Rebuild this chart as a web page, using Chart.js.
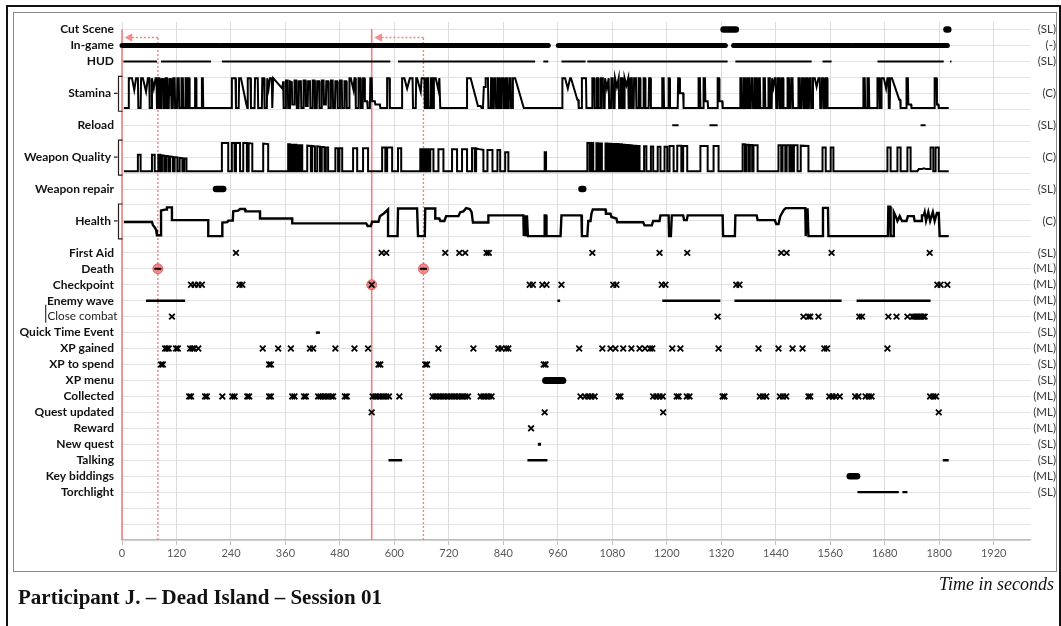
<!DOCTYPE html>
<html>
<head>
<meta charset="utf-8">
<script src="https://cdn.jsdelivr.net/npm/chart.js@4.4.1/dist/chart.umd.min.js"></script>
<style>
  html, body { margin: 0; padding: 0; background: #fff; }
  body { width: 1061px; height: 626px; position: relative; overflow: hidden; }
  #timeline { position: absolute; left: 0; top: 0; }
  .outer { position: absolute; left: 6px; top: 5px; width: 1051px; height: 660px; border: 2px solid #111; }
  .inner { position: absolute; left: 13px; top: 12px; width: 1042px; height: 558px; border: 1px solid #8a8a8a; }
  .title { position: absolute; left: 18px; top: 587px; font: bold 21px "Liberation Serif", serif; line-height: 1; color: #111; white-space: nowrap; }
  .unit { position: absolute; right: 7px; top: 575px; font: italic 18px "Liberation Serif", serif; line-height: 1; color: #111; white-space: nowrap; }
</style>
</head>
<body>
<div class="outer"></div>
<div class="inner"></div>
<canvas id="timeline" width="1061" height="626"></canvas>
<div class="title">Participant J. – Dead Island – Session 01</div>
<div class="unit">Time in seconds</div>
<script>
// ---- axis setup -------------------------------------------------------
const xTickValues = [0, 120, 240, 360, 480, 600, 720, 840, 960, 1080, 1200, 1320, 1440, 1560, 1680, 1800, 1920];
const xMaxSeconds = 2000;

// ---- rows (label, level on the vertical axis, coding) -----------------
const rowLabels = ['Cut Scene', 'In-game', 'HUD', 'Stamina', 'Reload', 'Weapon Quality', 'Weapon repair', 'Health',
  'First Aid', 'Death', 'Checkpoint', 'Enemy wave', 'Close combat', 'Quick Time Event', 'XP gained', 'XP to spend',
  'XP menu', 'Collected', 'Quest updated', 'Reward', 'New quest', 'Talking', 'Key biddings', 'Torchlight'];
const rowLevels = [32, 31, 30, 28, 26, 24, 22, 20, 18, 17, 16, 15, 14, 13, 12, 11, 10, 9, 8, 7, 6, 5, 4, 3];
const rowCodes = ['(SL)', '(-)', '(SL)', '(C)', '(SL)', '(C)', '(SL)', '(C)', '(SL)', '(ML)', '(ML)', '(ML)', '(ML)', '(SL)',
  '(ML)', '(SL)', '(SL)', '(ML)', '(ML)', '(ML)', '(SL)', '(SL)', '(ML)', '(SL)'];

// ---- interval events [start, end] in seconds --------------------------
const cutScene = [[1325, 1352], [1816, 1820]];
const inGame = [[0, 212], [216, 939], [961, 1329], [1347, 1607], [1611, 1818]];
const hud = [[3, 77], [86, 196], [220, 591], [608, 910], [928, 939], [968, 1021], [1025, 1334], [1351, 1519], [1543, 1563], [1664, 1810], [1824, 1827]];
const reload = [[1212, 1226], [1294, 1312], [1759, 1770]];
const weaponRepair = [[207, 223], [1012, 1016]];
const enemyWave = [[53, 139], [959, 965], [1190, 1318], [1349, 1585], [1618, 1781]];
const quickTimeEvent = [[427, 436]];
const xpMenu = [[933, 971]];
const newQuest = [[916, 923]];
const talking = [[587, 617], [893, 937], [1808, 1821]];
const keyBiddings = [[1603, 1619]];
const torchlight = [[1620, 1711], [1719, 1730]];

// ---- point events (seconds) -------------------------------------------
const firstAid = [251, 572, 582, 712, 743, 756, 803, 808, 1036, 1184, 1245, 1452, 1464, 1563, 1779];
const deaths = [79, 664];
const respawnCheckpoints = [0, 550];
const checkpointAtDeath = [550];
const checkpoint = [152, 160, 168, 176, 259, 265, 550, 898, 905, 926, 935, 968, 1082, 1089, 1189, 1197, 1353, 1360, 1796, 1803, 1818];
const closeCombat = [110, 1312, 1501, 1512, 1516, 1534, 1624, 1630, 1688, 1706, 1730, 1741, 1745, 1749, 1753, 1757, 1761, 1765, 1768];
const xpGained = [95, 99, 103, 119, 123, 150, 155, 159, 168, 310, 344, 372, 414, 421, 470, 512, 542, 697, 774, 829, 836, 846, 851,
  1007, 1058, 1076, 1087, 1104, 1122, 1140, 1152, 1163, 1168, 1212, 1230, 1314, 1402, 1446, 1477, 1499, 1547, 1553, 1686];
const xpToSpend = [86, 90, 324, 328, 565, 569, 668, 672, 929, 933];
const collected = [148, 152, 183, 187, 221, 243, 248, 276, 280, 324, 328, 375, 380, 401, 405, 432, 437, 443, 449, 455, 461, 465, 491, 495,
  552, 558, 564, 570, 576, 582, 588, 611, 684, 690, 696, 702, 708, 714, 720, 726, 732, 738, 744, 750, 756, 762, 790, 796, 802, 808, 814,
  1010, 1020, 1027, 1034, 1041, 1094, 1098, 1170, 1177, 1184, 1191, 1222, 1226, 1244, 1250, 1323, 1327, 1405, 1412, 1419, 1449, 1456, 1463,
  1512, 1516, 1558, 1565, 1572, 1581, 1615, 1622, 1638, 1645, 1651, 1780, 1787, 1793];
const questUpdated = [550, 931, 1192, 1799];
const reward = [901];

// ---- continuous measures [seconds, level] -----------------------------
const stamina = [
  [4,27.08],[15,27.08],[15,28.95],[22,28.95],[27,28.2],[31,28.95],[35,28.95],[36,27.08],[41,27.08],[42,28.95],[46,28.95],[53,28.1],[57,28.95],[60,28.95],[61,27.08],[65,27.08],[66,28.95],[70,28.3],[74,28.95],[76,28.95],[77,27.08],
  [79,27.08],[79,28.95],[82,28.95],[83,27.08],[86,27.08],[87,28.95],[89,28.5],[91,28.95],[92,27.08],[95,27.08],[96,28.95],[99,28.95],[100,27.08],[103,27.08],[104,28.95],[106,28.4],[108,28.95],[109,27.08],[112,27.08],[113,28.95],[116,28.95],[117,27.08],[121,27.08],[122,28.95],[125,28.95],[126,27.08],[130,27.08],[131,28.95],[134,28.95],[135,27.08],[139,27.08],[140,28.95],[142,28.95],[143,27.08],
  [146,27.08],[146,28.95],[148,28.95],[149,27.08],[161,27.08],[161,28.95],[163,28.95],[164,27.08],[176,27.08],[176,28.95],[178,28.95],[179,27.08],
  [242,27.08],[242,28.95],[250,28.95],[251,27.08],[257,27.08],[258,28.95],[262,28.95],[274,27.3],[276,27.08],[277,28.95],[283,28.95],[284,27.08],[292,27.08],[293,28.95],[299,28.95],[300,27.08],[308,27.08],[309,28.95],[313,28.95],[314,27.08],[319,27.08],[320,28.95],[323,28.3],[326,28.95],[330,28.95],[331,27.08],[332,27.08],[333,28.95],[353,28.3],
  [355,28.75],[356,27.08],[360,27.08],[361,28.8],[365,28.8],[366,27.08],[369,27.08],[370,28.75],[374,28.7],[375,27.3],[379,27.3],[380,28.8],[384,28.8],[385,27.08],[389,27.08],[390,28.75],[394,28.75],[395,27.08],[399,27.08],[400,28.8],[404,28.8],[405,27.2],[409,27.2],[410,28.75],[414,28.75],[415,27.08],[419,27.08],[420,28.8],[424,28.8],[425,27.08],[429,27.08],[430,28.75],[434,28.75],[435,27.08],[439,27.08],[440,28.8],[444,28.8],[445,27.3],[449,27.3],[450,28.75],[454,28.75],[455,27.08],[459,27.08],[460,28.8],[464,28.8],[465,27.08],[469,27.08],[470,28.75],[474,28.75],[475,27.08],[479,27.08],[480,28.8],[484,28.8],[485,27.08],[489,27.08],[490,28.75],[494,28.75],[495,27.08],
  [500,27.08],[501,28.95],[504,28.95],[510,28.2],[512,28.95],[514,28.95],[515,27.08],[520,27.08],[521,28.95],[525,28.95],[526,27.08],[530,27.08],[531,28.95],[534,28.95],[535,27.5],[540,27.5],[541,27.08],[546,27.08],[547,28.95],[550,28.95],[551,27.5],[557,27.5],[558,27.3],[568,27.3],[569,27.08],[584,27.08],[584,28.95],[589,28.95],[590,27.08],[617,27.08],
  [617,28.95],[622,28.95],[628,28.3],[634,28.95],[640,28.95],[641,27.08],[647,27.08],[648,28.95],[650,28.95],[658,28.1],[660,28.95],[666,28.95],[667,27.08],[670,27.08],[671,28.95],[674,28.95],[675,27.08],[679,27.08],[680,28.95],[683,28.95],[684,27.08],[686,27.08],[687,28.95],[691,28.95],[697,28.2],[699,28.95],[700,28.95],[701,27.08],[760,27.08],
  [760,28.95],[768,28.95],[784,27.2],[790,27.2],[792,27.08],[795,27.08],[797,28.4],[800,28.4],[801,28.95],[806,28.95],[807,27.08],[812,27.08],[813,28.95],[815,28.95],[816,27.08],[819,27.08],[820,28.95],[823,28.95],[824,27.08],[827,27.08],[828,28.95],[831,28.95],[832,27.08],[835,27.08],[836,28.95],[840,28.95],[841,27.08],[844,27.08],[845,28.95],[848,28.95],[849,27.08],[852,27.08],[853,28.95],[856,28.95],[857,27.08],[860,27.08],[861,28.95],[866,28.95],[885,27.08],[970,27.08],
  [970,28.95],[976,28.95],[982,28.3],[987,28.95],[989,28.95],[1003,27.6],[1005,27.6],[1006,27.08],[1012,27.08],[1013,28.95],[1022,28.95],[1023,27.08],[1036,27.08],
  [1036,28.95],[1040,28.95],[1041,27.08],[1045,27.08],[1046,28.95],[1049,28.95],[1050,27.08],[1054,27.08],[1055,28.95],[1059,28.95],[1060,27.08],[1063,27.08],[1064,28.95],[1068,28.3],[1072,28.95],[1073,27.08],[1077,27.08],[1078,28.95],[1081,28.95],[1082,27.08],[1085,27.08],[1086,28.95],[1090,28.4],[1094,28.95],[1095,27.08],[1098,27.08],[1099,28.95],[1102,28.95],[1103,27.08],[1106,27.08],[1107,28.95],[1111,28.5],[1115,28.95],[1116,27.08],[1119,27.08],[1120,28.95],[1123,28.95],[1124,27.08],[1127,27.08],[1128,28.95],[1132,28.95],[1133,27.08],[1137,27.08],[1138,28.95],[1141,28.95],[1142,27.08],[1148,27.08],[1149,28.95],[1152,28.95],[1153,27.08],[1160,27.08],[1161,28.95],[1164,28.95],[1165,27.08],[1190,27.08],
  [1190,28.95],[1193,28.95],[1194,27.08],[1203,27.08],[1204,28.95],[1206,28.95],[1207,27.08],[1224,27.08],[1225,28.95],[1228,28.95],[1229,28.0],[1236,28.0],[1237,27.08],[1269,27.08],[1270,28.95],[1273,28.95],[1274,27.08],[1280,27.08],[1281,28.95],[1284,28.95],[1285,27.5],[1290,27.5],[1291,27.08],[1311,27.08],[1312,28.95],[1315,28.95],[1316,27.5],[1322,27.5],[1323,27.08],[1362,27.08],
  [1362,28.95],[1365,28.95],[1366,27.08],[1369,27.08],[1370,28.95],[1373,28.95],[1374,27.08],[1377,27.08],[1378,28.95],[1381,28.95],[1382,27.08],[1385,27.08],[1386,28.95],[1389,28.95],[1390,27.08],[1393,27.08],[1394,28.95],[1397,28.95],[1398,27.08],[1401,27.08],[1402,28.95],[1405,28.95],[1406,27.08],[1412,27.08],[1413,28.95],[1416,28.95],[1417,27.08],[1423,27.08],[1424,28.95],[1427,28.95],[1428,27.08],[1431,27.08],[1432,28.95],[1435,28.4],[1438,28.95],[1440,28.95],[1441,27.08],[1444,27.08],[1445,28.95],[1448,28.95],[1449,27.08],[1452,27.08],[1453,28.95],[1456,28.95],[1457,27.08],[1465,27.08],[1466,28.95],[1469,28.95],[1470,27.08],[1473,27.08],[1474,28.95],[1477,28.95],[1478,27.08],[1489,27.08],[1490,28.95],[1493,28.95],[1494,27.08],[1497,27.08],[1498,28.95],[1501,28.95],[1502,27.08],[1505,27.08],[1506,28.95],[1509,28.95],[1510,27.08],[1513,27.08],[1514,28.95],[1517,28.95],[1518,27.08],[1521,27.08],[1522,28.95],[1526,28.95],[1530,28.4],[1534,28.95],[1537,28.95],[1538,27.08],[1541,27.08],[1542,28.95],[1545,28.95],[1546,27.08],[1549,27.08],[1550,28.95],[1553,28.95],[1554,27.08],[1633,27.08],
  [1633,28.95],[1636,28.95],[1637,27.08],[1641,27.08],[1642,28.95],[1645,28.95],[1646,27.08],[1664,27.08],
  [1664,28.95],[1668,28.95],[1669,27.08],[1672,27.08],[1673,28.95],[1678,28.95],[1683,28.3],[1686,28.95],[1688,28.95],[1689,27.08],[1691,27.08],[1692,28.95],[1696,28.95],[1712,27.6],[1714,27.6],[1715,27.08],[1727,27.08],[1728,28.95],[1731,28.95],[1732,27.3],[1738,27.3],[1739,27.08],[1789,27.08],[1790,28.95],[1794,28.95],[1795,27.3],[1798,27.3],[1799,27.08],[1821,27.08]
];

const weaponQuality = [
  [4,23.12],[35,23.12],[35,24.15],[41,24.15],[41,23.12],[66,23.12],[66,24.15],[72,24.15],[72,23.12],[80,23.12],[80,24.15],[84,24.15],[84,23.12],[88,23.12],[88,24.12],[93,24.1],[93,23.12],[97,23.12],[97,24.08],[102,24.06],[102,23.12],[106,23.12],[106,24.04],[112,24.02],[112,23.12],[116,23.12],[116,24.0],[122,23.98],[122,23.12],[127,23.12],[127,23.96],[133,23.94],[133,23.12],[137,23.12],[137,23.93],[142,23.92],[142,23.12],
  [220,23.12],[220,24.88],[234,24.88],[234,23.12],[242,23.12],[242,24.88],[248,24.88],[248,23.12],[251,23.12],[251,24.88],[260,24.88],[260,23.12],[267,23.12],[267,24.88],[275,24.88],[275,23.12],[279,23.12],[279,24.88],[287,24.85],[287,23.12],[311,23.12],[311,24.85],[322,24.82],[322,23.12],
  [366,23.12],[366,24.8],[370,24.8],[370,23.12],[373,23.12],[373,24.78],[377,24.78],[377,23.12],[380,23.12],[380,24.77],[384,24.77],[384,23.12],[387,23.12],[387,24.76],[391,24.75],[391,23.12],[393,23.12],[393,24.74],[397,24.74],[397,23.12],[408,23.12],[408,24.72],[416,24.7],[416,23.12],[419,23.12],[419,24.7],[425,24.68],[425,23.12],[430,23.12],[430,24.68],[436,24.66],[436,23.12],[440,23.12],[440,24.65],[446,24.63],[446,23.12],[449,23.12],[449,24.6],[454,24.6],[454,23.12],
  [470,23.12],[470,24.55],[476,24.55],[476,23.12],[479,23.12],[479,24.55],[485,24.55],[485,23.12],[509,23.12],[509,24.55],[518,24.55],[518,23.12],[531,23.12],[531,24.55],[542,24.55],[542,23.12],[573,23.12],[573,24.6],[580,24.6],[580,23.12],[584,23.12],[584,24.6],[595,24.6],[595,23.12],[608,23.12],[608,24.55],[615,24.55],[615,23.12],
  [657,23.12],[657,24.5],[661,24.5],[661,23.12],[664,23.12],[664,24.5],[668,24.5],[668,23.12],[671,23.12],[671,24.5],[675,24.5],[675,23.12],[679,23.12],[679,24.5],[686,24.5],[686,23.12],[697,23.12],[697,24.5],[708,24.5],[708,23.12],[727,23.12],[727,24.5],[738,24.5],[738,23.12],[749,23.12],[749,24.5],[760,24.5],[760,23.12],[771,23.12],[771,24.55],[777,24.55],[777,23.12],[780,23.12],[780,24.55],[787,24.5],[796,24.45],[796,23.12],[805,23.12],[805,24.45],[816,24.45],[816,23.12],[827,23.12],[827,24.45],[833,24.45],[833,23.12],[844,23.12],[844,24.3],[851,24.3],[851,23.12],
  [931,23.12],[931,24.3],[934,24.3],[934,23.12],
  [1025,23.12],[1025,24.88],[1030,24.88],[1030,23.12],[1034,23.12],[1034,24.88],[1038,24.88],[1038,23.12],[1045,23.12],[1045,24.87],[1049,24.87],[1049,23.12],[1053,23.12],[1053,24.86],[1057,24.86],[1057,23.12],[1065,23.12],[1065,24.85],[1069,24.85],[1069,23.12],[1073,23.12],[1073,24.84],[1077,24.84],[1077,23.12],[1081,23.12],[1081,24.83],[1085,24.83],[1085,23.12],[1089,23.12],[1089,24.82],[1093,24.82],[1093,23.12],[1097,23.12],[1097,24.8],[1101,24.8],[1101,23.12],[1104,23.12],[1104,24.79],[1108,24.78],[1108,23.12],[1112,23.12],[1112,24.77],[1116,24.76],[1116,23.12],[1120,23.12],[1120,24.75],[1124,24.74],[1124,23.12],[1128,23.12],[1128,24.73],[1132,24.72],[1132,23.12],[1136,23.12],[1136,24.71],[1140,24.7],[1140,23.12],[1150,23.12],[1150,24.68],[1155,24.68],[1155,23.12],[1165,23.12],[1165,24.66],[1170,24.66],[1170,23.12],[1180,23.12],[1180,24.65],[1186,24.65],[1186,23.12],[1195,23.12],[1195,24.65],[1201,24.65],[1201,23.12],
  [1206,23.12],[1206,24.7],[1215,24.7],[1215,23.12],[1223,23.12],[1223,24.72],[1232,24.72],[1232,23.12],[1236,23.12],[1236,24.7],[1245,24.7],[1245,23.12],[1274,23.12],[1274,24.7],[1290,24.7],[1290,23.12],[1303,23.12],[1303,24.7],[1314,24.7],[1314,23.12],
  [1367,23.12],[1367,24.8],[1372,24.8],[1372,23.12],[1375,23.12],[1375,24.78],[1380,24.78],[1380,23.12],[1383,23.12],[1383,24.77],[1388,24.76],[1388,23.12],[1391,23.12],[1391,24.75],[1400,24.74],[1400,23.12],[1446,23.12],[1446,24.75],[1452,24.75],[1452,23.12],[1455,23.12],[1455,24.75],[1461,24.75],[1461,23.12],[1464,23.12],[1464,24.74],[1470,24.74],[1470,23.12],[1473,23.12],[1473,24.74],[1477,24.74],[1477,23.12],[1480,23.12],[1480,24.74],[1488,24.74],[1488,23.12],[1495,23.12],[1495,24.72],[1512,24.7],[1512,23.12],[1543,23.12],[1543,24.6],[1550,24.6],[1550,23.12],[1561,23.12],[1561,24.6],[1567,24.6],[1567,23.12],
  [1686,23.12],[1686,24.6],[1693,24.6],[1693,23.12],[1708,23.12],[1708,24.6],[1715,24.6],[1715,23.12],[1730,23.12],[1730,24.6],[1737,24.6],[1737,23.12],[1752,23.12],[1755,23.25],[1762,23.25],[1766,23.3],[1772,23.25],[1780,23.25],[1781,24.6],[1787,24.6],[1787,23.12],[1792,23.12],[1792,24.6],[1799,24.6],[1799,23.12],[1821,23.12]
];

const health = [
  [4,19.93],[66,19.93],[68,19.75],[72,19.6],[75,19.45],[77,19.1],[86,19.1],[86,20.65],[97,20.72],[99,20.85],[110,20.85],[110,20.05],[190,20.05],[190,19.05],[221,19.05],[221,19.9],[232,19.92],[234,20.02],[244,20.02],[245,20.6],[256,20.65],[260,20.75],[271,20.75],[272,20.6],[304,20.6],[304,20.15],[375,20.15],[375,19.85],[538,19.85],[541,19.68],[548,19.68],[551,19.95],[565,19.95],[568,20.3],[578,20.5],[586,20.72],[586,19.05],[607,19.05],[608,20.78],[650,20.78],[652,19.05],[667,19.05],[668,20.78],[690,20.78],[690,20.15],[699,20.15],[701,20.0],[710,20.0],[714,20.3],[741,20.3],[745,20.55],[752,20.6],[758,20.8],[766,20.75],[770,20.55],[773,19.9],[807,19.9],[807,20.35],[884,20.35],[885,19.05],[888,20.35],[889,19.05],[892,20.35],[894,19.05],[930,19.05],[931,20.35],[934,20.35],[935,19.05],[966,19.05],[968,20.35],[1012,20.35],[1013,19.05],[1025,19.05],[1027,20.0],[1032,20.0],[1034,20.45],[1037,20.72],[1065,20.72],[1066,20.45],[1076,20.45],[1078,20.25],[1089,20.15],[1091,19.92],[1148,19.92],[1151,19.72],[1167,19.72],[1170,20.0],[1184,20.0],[1186,20.35],[1204,20.35],[1205,19.05],[1209,19.05],[1211,20.35],[1236,20.35],[1238,20.05],[1244,20.05],[1246,20.35],[1323,20.35],[1324,19.05],[1350,19.05],[1351,20.35],[1398,20.35],[1400,20.05],[1438,20.05],[1441,19.8],[1446,19.8],[1450,20.3],[1458,20.7],[1462,20.8],[1505,20.8],[1506,19.05],[1510,20.8],[1512,19.05],[1543,19.05],[1544,20.82],[1555,20.82],[1556,19.05],[1687,19.05],[1688,20.9],[1692,20.9],[1693,19.05],[1699,19.05],[1700,20.55],[1704,20.3],[1708,20.0],[1713,20.3],[1718,20.0],[1728,20.0],[1731,20.3],[1744,20.3],[1746,20.0],[1760,20.0],[1762,20.35],[1766,20.35],[1768,20.55],[1771,20.0],[1776,20.55],[1780,20.0],[1786,20.55],[1790,20.0],[1795,20.5],[1799,20.5],[1801,19.05],[1821,19.05]
];

// ---- helpers turning the arrays into chart points ---------------------
const levelOf = name => rowLevels[rowLabels.indexOf(name)];
function spans(intervals, level) {
  const pts = [];
  intervals.forEach(([a, b], i) => {
    if (i) pts.push({ x: (intervals[i - 1][1] + a) / 2, y: null });
    pts.push({ x: a, y: level }, { x: b, y: level });
  });
  return pts;
}
const marks = (times, level) => times.map(t => ({ x: t, y: level }));
const curve = pairs => pairs.map(([x, y]) => ({ x, y }));
function verticals(times, top) {
  const pts = [];
  times.forEach((t, i) => {
    if (i) pts.push({ x: t, y: null });
    pts.push({ x: t, y: 0 }, { x: t, y: top });
  });
  return pts;
}

const respawnLevel = 31.5;
const arrowPaths = [];
deaths.forEach((t, i) => {
  if (i) arrowPaths.push({ x: t, y: null });
  arrowPaths.push({ x: t, y: respawnLevel }, { x: respawnCheckpoints[i] + 10, y: respawnLevel });
});

const RED = 'rgb(241,128,128)';
const lineSet = (data, width, cap, extra) => Object.assign({
  data, borderColor: '#000', backgroundColor: '#000', borderWidth: width, borderCapStyle: cap || 'butt',
  pointRadius: 0, showLine: true, spanGaps: false, order: 3, clip: false
}, extra || {});
const markSet = (data, extra) => Object.assign({
  data, showLine: false, pointStyle: 'crossRot', pointRadius: 4, pointBorderWidth: 1.8,
  pointBorderColor: '#000', pointBackgroundColor: '#000', order: 1, clip: false
}, extra || {});

const datasets = [
  // respawn guides
  lineSet(verticals(respawnCheckpoints, 32.02), 1.6, 'butt', { borderColor: RED, order: 20 }),
  lineSet(verticals(deaths, respawnLevel), 1.4, 'butt', { borderColor: RED, borderDash: [2, 2], order: 20 }),
  lineSet(arrowPaths, 1.4, 'butt', { borderColor: RED, borderDash: [2, 2], order: 20 }),
  markSet(respawnCheckpoints.map(t => ({ x: t + 17, y: respawnLevel })), {
    pointStyle: 'triangle', rotation: -90, pointRadius: 5, pointBorderWidth: 0,
    pointBackgroundColor: 'rgb(245,140,140)', pointBorderColor: 'rgb(245,140,140)', order: 19 }),

  // continuous measures
  lineSet(curve(stamina), 2, 'butt', { borderJoinStyle: 'miter' }),
  lineSet(curve(weaponQuality), 2, 'butt', { borderJoinStyle: 'miter' }),
  lineSet(curve(health), 2.4, 'butt', { borderJoinStyle: 'miter' }),

  // interval events
  lineSet(spans(cutScene, levelOf('Cut Scene')), 6.5, 'round'),
  lineSet(spans(inGame, levelOf('In-game')), 5, 'round'),
  lineSet(spans(hud, levelOf('HUD')), 2),
  lineSet(spans(reload, levelOf('Reload')), 2),
  lineSet(spans(weaponRepair, levelOf('Weapon repair')), 6.5, 'round'),
  lineSet(spans(enemyWave, levelOf('Enemy wave')), 2.5),
  lineSet(spans(quickTimeEvent, levelOf('Quick Time Event')), 2.5),
  lineSet(spans(xpMenu, levelOf('XP menu')), 7, 'round'),
  lineSet(spans(newQuest, levelOf('New quest')), 3),
  lineSet(spans(talking, levelOf('Talking')), 2.5),
  lineSet(spans(keyBiddings, levelOf('Key biddings')), 6.5, 'round'),
  lineSet(spans(torchlight, levelOf('Torchlight')), 2.2),

  // highlighted death / checkpoint circles
  markSet(marks(deaths, levelOf('Death')).concat(marks(checkpointAtDeath, levelOf('Checkpoint'))), {
    pointStyle: 'circle', pointRadius: 5, pointBorderWidth: 1,
    pointBackgroundColor: 'rgba(238,110,110,0.8)', pointBorderColor: 'rgba(225,90,90,0.9)', order: 2 }),
  markSet(marks(deaths, levelOf('Death')), { pointStyle: 'line', pointRadius: 3.5, pointBorderWidth: 2, order: 0 }),

  // point events
  markSet(marks(firstAid, levelOf('First Aid'))),
  markSet(marks(checkpoint, levelOf('Checkpoint'))),
  markSet(marks(closeCombat, levelOf('Close combat'))),
  markSet(marks(xpGained, levelOf('XP gained'))),
  markSet(marks(xpToSpend, levelOf('XP to spend'))),
  markSet(marks(collected, levelOf('Collected'))),
  markSet(marks(questUpdated, levelOf('Quest updated'))),
  markSet(marks(reward, levelOf('Reward')))
];

// brackets beside the continuous rows, and the plain "Close combat" label
const bracketRows = [['Stamina', 27, 29], ['Weapon Quality', 23, 25], ['Health', 19, 21]];
const rowDecor = {
  id: 'rowDecor',
  afterDraw(chart) {
    const { ctx, scales: { y } } = chart;
    ctx.save();
    ctx.strokeStyle = '#222';
    ctx.lineWidth = 1.2;
    bracketRows.forEach(([name, lo, hi]) => {
      const yt = y.getPixelForValue(hi) - 1, yb = y.getPixelForValue(lo) + 2, ym = y.getPixelForValue(levelOf(name));
      ctx.beginPath();
      ctx.moveTo(122.5, yt); ctx.lineTo(118.5, yt); ctx.lineTo(118.5, yb); ctx.lineTo(122.5, yb);
      ctx.moveTo(114, ym); ctx.lineTo(117.5, ym);
      ctx.stroke();
    });
    const yc = y.getPixelForValue(levelOf('Close combat'));
    ctx.fillStyle = '#444';
    ctx.fillRect(45, yc - 12, 1.3, 18);
    ctx.fillStyle = '#222';
    let size = 13;
    ctx.font = size + 'px Lato';
    size *= 70 / ctx.measureText('Close combat').width;
    ctx.font = size.toFixed(2) + 'px Lato';
    ctx.textAlign = 'left';
    ctx.textBaseline = 'middle';
    ctx.fillText('Close combat', 47.5, yc);
    ctx.restore();
  }
};

const gridLevels = Array.from({ length: 33 }, (_, i) => i);
const labelAt = v => {
  const i = rowLevels.indexOf(v);
  if (i < 0 || rowLabels[i] === 'Close combat') return '';
  return bracketRows.some(r => r[0] === rowLabels[i]) ? rowLabels[i] + '\u2009\u2009' : rowLabels[i];
};

Chart.defaults.font.family = 'Lato';
new Chart(document.getElementById('timeline'), {
  type: 'line',
  data: { datasets },
  plugins: [rowDecor],
  options: {
    responsive: false,
    animation: false,
    events: [],
    layout: { padding: { top: 22, right: 5, left: 0, bottom: 0 } },
    plugins: { legend: { display: false }, tooltip: { enabled: false } },
    scales: {
      x: {
        type: 'linear', min: 0, max: xMaxSeconds,
        afterBuildTicks: s => { s.ticks = xTickValues.map(v => ({ value: v })); },
        afterFit: s => { s.height = 86; },
        grid: { color: '#dcdcdc', lineWidth: 1, drawTicks: true, tickLength: 5, tickColor: '#c4c4c4' },
        border: { display: true, color: '#bdbdbd', width: 1.5 },
        ticks: { autoSkip: false, maxRotation: 0, padding: 2, color: '#595959', font: { size: 11 },
          callback: v => String(v) }
      },
      y: {
        type: 'linear', position: 'left', min: 0, max: 32.47,
        afterBuildTicks: s => { s.ticks = gridLevels.map(v => ({ value: v })); },
        afterFit: s => { s.width = 122; },
        grid: { color: '#e2e2e2', lineWidth: 1, drawTicks: false },
        border: { display: false },
        ticks: { autoSkip: false, padding: 8, crossAlign: 'near', color: '#111',
          font: { size: 12, weight: 'bold' }, callback: v => labelAt(v) }
      },
      yRight: {
        type: 'linear', position: 'right', min: 0, max: 32.47,
        afterBuildTicks: s => { s.ticks = rowLevels.map(v => ({ value: v })); },
        afterFit: s => { s.width = 26; },
        grid: { display: false, drawTicks: false },
        border: { display: false },
        ticks: { autoSkip: false, padding: 0, crossAlign: 'far', color: '#333', font: { size: 11.5 },
          callback: v => rowCodes[rowLevels.indexOf(v)] || '' }
      }
    }
  }
});
</script>
</body>
</html>
